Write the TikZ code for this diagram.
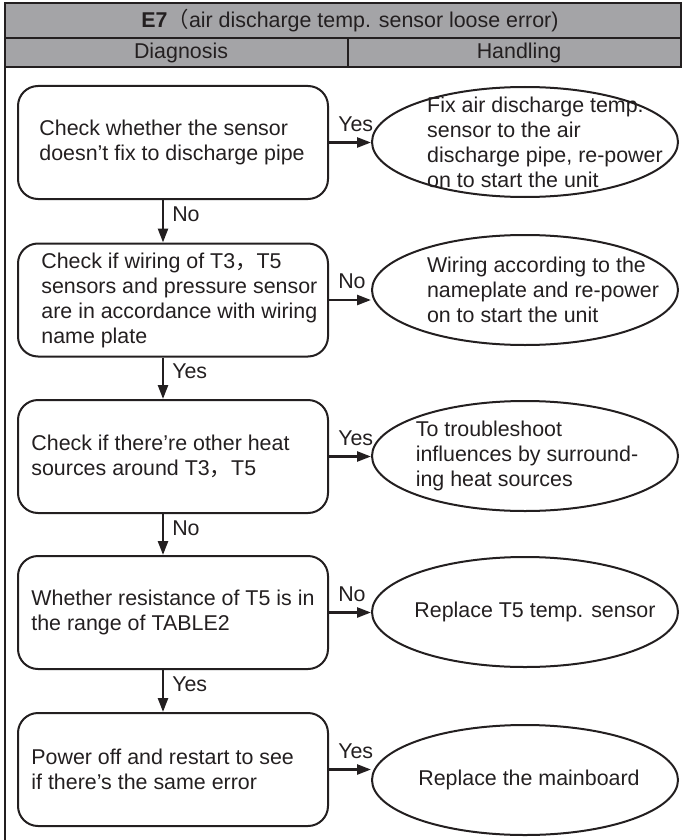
\documentclass[tikz,border=0pt]{standalone}
\usepackage{fontspec}
\setmainfont{Liberation Sans}
\newfontfamily\cjk{Noto Sans CJK SC}
\usetikzlibrary{shapes.geometric, arrows.meta, positioning}
\definecolor{headgray}{RGB}{164,164,167}
\definecolor{ink}{RGB}{35,31,32}

\begin{document}
\begin{tikzpicture}[x=0.5pt,y=-0.5pt,
  every node/.style={font=\fontsize{10.7}{12.5}\selectfont, text=ink},
  diag/.style={draw=ink, line width=1pt, rounded corners=10pt,
    minimum width=155pt, minimum height=56.5pt, inner sep=0pt},
  hand/.style={ellipse, draw=ink, line width=1pt,
    minimum width=153pt, minimum height=55pt, inner sep=0pt},
  txt/.style={align=left, inner sep=0pt},
  flow/.style={draw=ink, line width=1.25pt, -{Triangle[length=7pt,width=5pt]}},
  rule/.style={draw=ink, line width=1.2pt}]

  \useasboundingbox (0,0) rectangle (683,840);

  % header rows
  \fill[headgray] (5,3) rectangle (681,67);
  \draw[rule] (5,840) -- (5,3) -- (681,3) -- (681,67) -- (5,67);
  \draw[rule] (5,38) -- (681,38);
  \draw[rule] (348,38) -- (348,67);
  \node (title) at (350,21) {\textbf{E7}{\cjk （}air discharge temp. sensor loose error)};
  \node (diaghead) at (181,53) {Diagnosis};
  \node (handhead) at (519,53) {Handling};

  % diagnosis steps
  \foreach \n/\y in {1/142.5, 2/300, 3/456.5, 4/612.5, 5/769.5}
    \node[diag] (b\n) at (173,\y) {};
  \node[txt, anchor=west] (b1t) at ([xshift=11pt]b1.west) {Check whether the sensor\\doesn’t fix to discharge pipe};
  \node[txt, anchor=west] (b2t) at ([xshift=12pt]b2.west) {Check if wiring of T3{\cjk ，}T5\\sensors and pressure sensor\\are in accordance with wiring\\name plate};
  \node[txt, anchor=west] (b3t) at ([xshift=7pt]b3.west) {Check if there’re other heat\\sources around T3{\cjk ，}T5};
  \node[txt, anchor=west] (b4t) at ([xshift=7pt]b4.west) {Whether resistance of T5 is in\\the range of TABLE2};
  \node[txt, anchor=west] (b5t) at ([xshift=7pt]b5.west) {Power off and restart to see\\if there’s the same error};

  % handling
  \foreach \n/\y in {1/142, 2/290, 3/456, 4/612, 5/780}
    \node[hand] (e\n) at (525,\y) {};
  \node[txt] (e1t) at ([xshift=10pt]e1.center) {Fix air discharge temp.\\sensor to the air\\discharge pipe, re-power\\on to start the unit};
  \node[txt] (e2t) at ([xshift=9pt]e2.center) {Wiring according to the\\nameplate and re-power\\on to start the unit};
  \node[txt] (e3t) at ([xshift=1pt]e3.center) {To troubleshoot\\influences by surround-\\ing heat sources};
  \node[txt] (e4t) at ([xshift=5pt]e4.center) {Replace T5 temp. sensor};
  \node[txt] (e5t) at ([xshift=2pt]e5.center) {Replace the mainboard};

  % connectors
  \foreach \a/\b/\ans in {b1/b2/No, b2/b3/Yes, b3/b4/No, b4/b5/Yes}
    \draw[flow] ([xshift=-5pt]\a.south) -- node[pos=0.34, right, inner sep=1pt, xshift=3pt] {\ans} ([xshift=-5pt]\b.north);
  \foreach \a/\b/\ans in {b1/e1/Yes, b2/e2/No, b3/e3/Yes, b4/e4/No, b5/e5/Yes}
    \draw[flow] (\a.east) -- node[pos=0, anchor=south west, inner sep=0pt, xshift=4pt, yshift=5pt] {\ans} (\a.east -| \b.west);
\end{tikzpicture}
\end{document}
